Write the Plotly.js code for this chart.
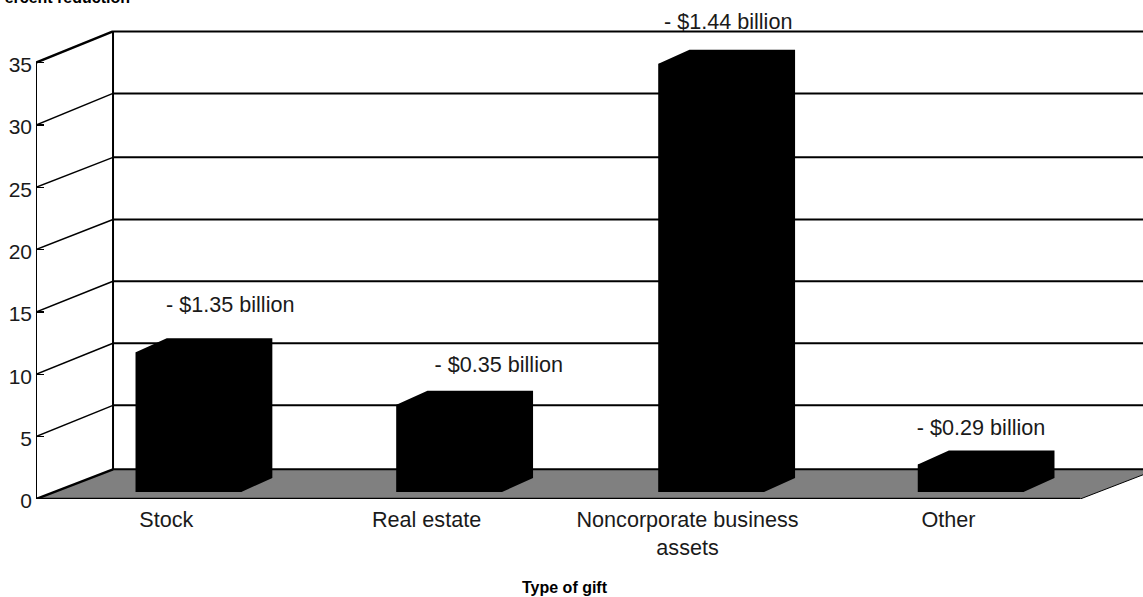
<!DOCTYPE html>
<html><head><meta charset="utf-8">
<script src="https://cdn.plot.ly/plotly-3.0.1.min.js"></script>
<style>html,body{margin:0;padding:0;background:#fff;overflow:hidden}#c{width:1143px;height:597px}</style>
</head><body><div id="c"></div>
<script>
const categories = ["Stock","Real estate","Noncorporate business<br>assets","Other"];
const positions = [1,2,3.005,4];
const percentReduction = [11.2,7.0,34.35,2.2];
const amountLabels = ["- $1.35 billion","- $0.35 billion","- $1.44 billion","- $0.29 billion"];
const labelY = [15.42,10.62,38.12,5.6];
const labelX = [1.16,2.19,3.07,4.04];
const categoryTickX = [0.915,1.913,2.914,3.915];
const yTicks = [0,5,10,15,20,25,30,35];
const wallRise = [2.38,2.51,2.49,2.46,2.42,2.4,2.53,2.5];

const FONT = "Liberation Sans, Arial, sans-serif";
const wallDX = 0.2954;
const xFront0 = 0.415, xFrontEnd = 4.42, xEnd = 4.661;
const barW = 0.405, barDX = 0.119, barDY = 1.13, barBase = 0.56;

const shapes = [];
function line(x0,y0,x1,y1,w){shapes.push({type:'line',xref:'x',yref:'y',x0,y0,x1,y1,layer:'below',line:{color:'#000',width:w}});}
// floor
shapes.push({type:'path',xref:'x',yref:'y',layer:'below',fillcolor:'#808080',line:{width:0},
  path:`M${xFront0},0 L${xFrontEnd},0 L${xFrontEnd+wallDX},${wallRise[0]} L${xFront0+wallDX},${wallRise[0]} Z`});
yTicks.forEach((t,i)=>{
  const edge = (i===0||i===yTicks.length-1);
  line(xFront0,t,xFront0+wallDX,t+wallRise[i],edge?2.5:1.5);
  line(xFront0+wallDX,t+wallRise[i],xEnd,t+wallRise[i],2);
});
line(xFront0,0,xFront0,35,2);
line(xFront0+wallDX,wallRise[0],xFront0+wallDX,35+wallRise[7],2);
line(xFront0,0,xFrontEnd,0,2.5);
line(xFrontEnd,0,xFrontEnd+wallDX,wallRise[0],1);

// whole bar silhouette (front + top + side) so no seams show
const sx=[],sy=[];
positions.forEach((p,i)=>{
  const l=p-barW/2,r=p+barW/2,top=percentReduction[i]+barBase;
  sx.push(l,l,l+barDX,r+barDX,r+barDX,r,l,null);
  sy.push(barBase,top,top+barDY,top+barDY,barBase+barDY,barBase,barBase,null);
});

const data=[
 {type:'bar',x:positions,y:percentReduction,base:barBase,width:barW,marker:{color:'#000',line:{width:0}},hoverinfo:'skip'},
 {type:'scatter',mode:'lines',x:sx,y:sy,fill:'toself',fillcolor:'#000',line:{width:0,color:'#000'},hoverinfo:'skip'},
 {type:'scatter',mode:'text',x:labelX,y:labelY,text:amountLabels,textposition:'middle center',textfont:{family:FONT,size:21.6,color:'#1a1a1a'},hoverinfo:'skip',cliponaxis:false}
];

const layout={
 width:1143,height:597,showlegend:false,paper_bgcolor:'#fff',plot_bgcolor:'#fff',
 margin:{l:36,r:0,t:0,b:98,pad:0},
 font:{family:FONT,size:21.6,color:'#1a1a1a'},
 xaxis:{range:[xFront0,xEnd],tickmode:'array',tickvals:categoryTickX,ticktext:categories,ticks:'',showgrid:false,zeroline:false,showline:false,ticklabelstandoff:5,tickangle:0,tickfont:{family:FONT,size:21.6,color:'#1a1a1a'}},
 yaxis:{range:[0,40.02],tickmode:'array',tickvals:yTicks,ticks:'inside',ticklen:8,tickwidth:1.5,tickcolor:'#000',showgrid:false,zeroline:false,showline:false,ticklabelstandoff:3,ticklabelshift:2,tickfont:{family:FONT,size:21,color:'#1a1a1a'}},
 shapes,
 annotations:[
  {xref:'paper',yref:'paper',x:(565-36)/1107,y:-(587-499)/499,text:'<b>Type of gift</b>',showarrow:false,xanchor:'center',yanchor:'middle',font:{family:FONT,size:16,color:'#000'}},
  {xref:'paper',yref:'paper',x:(130-36)/1107,y:1,text:'<b>Percent reduction</b>',showarrow:false,xanchor:'right',yanchor:'bottom',yshift:-8,xshift:2,font:{family:FONT,size:16,color:'#000'}}
 ]
};
Plotly.newPlot('c',data,layout,{displayModeBar:false,staticPlot:true});
</script></body></html>
